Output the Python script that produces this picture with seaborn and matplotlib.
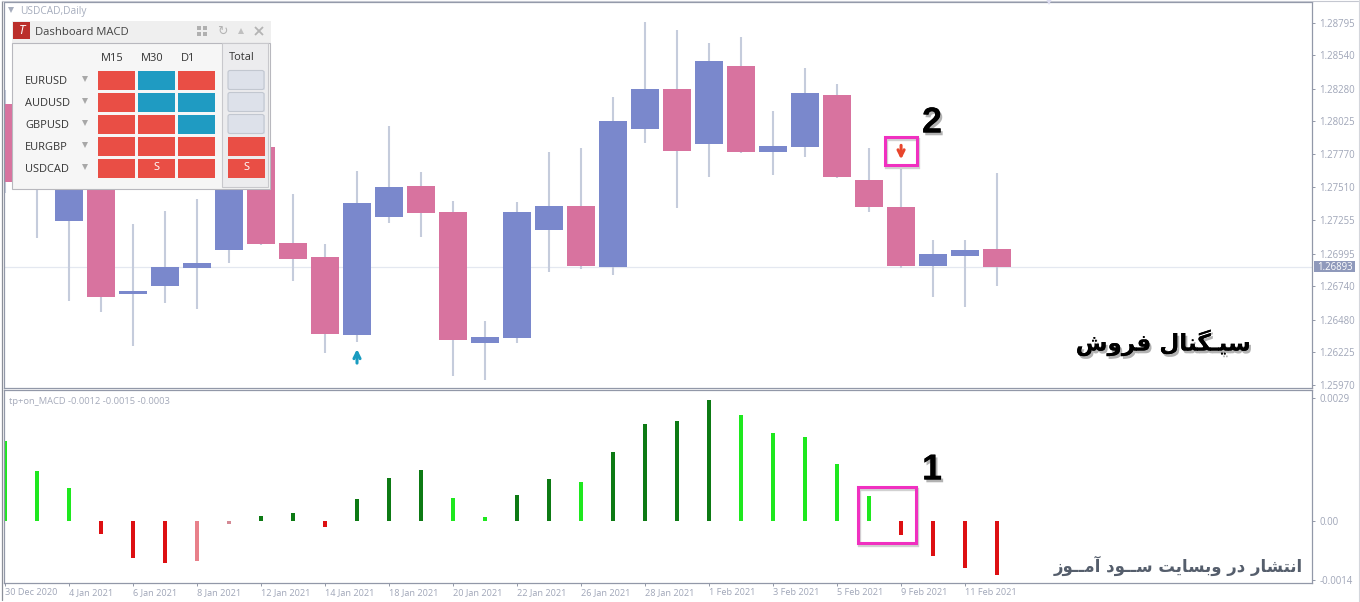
import numpy as np
import pandas as pd
import matplotlib
matplotlib.use("Agg")
import matplotlib.pyplot as plt
import matplotlib.patheffects as pe
from matplotlib.colors import ListedColormap
from matplotlib.patches import Rectangle, FancyBboxPatch
import seaborn as sns

# candles (prices, the ones behind the panel are guesses)
opens = [1.28157, 1.27550, 1.27246, 1.27700, 1.26678, 1.26741, 1.26881, 1.27021,
         1.27822, 1.27077, 1.26966, 1.26359, 1.27277, 1.27519, 1.27316, 1.26297,
         1.26336, 1.27176, 1.27363, 1.26888, 1.27962, 1.28274, 1.27846, 1.28460,
         1.27783, 1.27822, 1.28227, 1.27565, 1.27355, 1.26896, 1.26974, 1.27028]
highs = [1.28266, 1.27850, 1.27900, 1.27800, 1.27223, 1.27324, 1.27418, 1.27900,
         1.27900, 1.27457, 1.27068, 1.27636, 1.27986, 1.27628, 1.27402, 1.26468,
         1.27395, 1.27783, 1.27815, 1.28211, 1.28803, 1.28733, 1.28632, 1.28686,
         1.28102, 1.28437, 1.28313, 1.27815, 1.27651, 1.27099, 1.27099, 1.27620]
lows = [1.27464, 1.27114, 1.26624, 1.26538, 1.26274, 1.26608, 1.26562, 1.26920,
        1.27061, 1.26780, 1.26219, 1.26305, 1.27231, 1.27122, 1.26040, 1.26009,
        1.26297, 1.26850, 1.26873, 1.26826, 1.27853, 1.27347, 1.27589, 1.27776,
        1.27604, 1.27744, 1.27582, 1.27316, 1.26881, 1.26655, 1.26577, 1.26741]
closes = [1.27550, 1.27700, 1.27799, 1.26655, 1.26702, 1.26888, 1.26920, 1.27799,
          1.27068, 1.26951, 1.26367, 1.27386, 1.27511, 1.27309, 1.26320, 1.26344,
          1.27316, 1.27363, 1.26896, 1.28025, 1.28274, 1.27791, 1.28492, 1.27783,
          1.27830, 1.28243, 1.27589, 1.27355, 1.26896, 1.26990, 1.27021, 1.26888]

macd = [0.00190, 0.00119, 0.00079, -0.00031, -0.00088, -0.00100, -0.00095, -0.00007,
        0.00012, 0.00019, -0.00014, 0.00052, 0.00102, 0.00121, 0.00055, 0.00009,
        0.00062, 0.00100, 0.00092, 0.00164, 0.00230, 0.00237, 0.00287, 0.00251,
        0.00209, 0.00199, 0.00135, 0.00059, -0.00033, -0.00083, -0.00111, -0.00128]
macd_state = ["bright", "bright", "bright", "red", "red", "red", "salmon", "rose",
              "dark", "dark", "red", "dark", "dark", "dark", "bright", "bright",
              "dark", "dark", "bright", "dark", "dark", "dark", "dark", "bright",
              "bright", "bright", "bright", "bright", "red", "red", "red", "red"]

date_labels = ["30 Dec 2020", "4 Jan 2021", "6 Jan 2021", "8 Jan 2021", "12 Jan 2021",
               "14 Jan 2021", "18 Jan 2021", "20 Jan 2021", "22 Jan 2021", "26 Jan 2021",
               "28 Jan 2021", "1 Feb 2021", "3 Feb 2021", "5 Feb 2021", "9 Feb 2021",
               "11 Feb 2021"]
price_ticks = [1.28795, 1.28540, 1.28280, 1.28025, 1.27770, 1.27510, 1.27255,
               1.26995, 1.26740, 1.26480, 1.26225, 1.25970]
macd_ticks = [0.0029, 0.0, -0.0014]
macd_tick_labels = ["0.0029", "0.00", "-0.0014"]
last_price = 1.26893

# dashboard: 0 sell, 1 buy, 2 nothing
pairs = ["EURUSD", "AUDUSD", "GBPUSD", "EURGBP", "USDCAD"]
frames = ["M15", "M30", "D1"]
signals = [[0, 1, 0], [0, 1, 1], [0, 0, 1], [0, 0, 0], [0, 0, 0]]
signal_text = [["", "", ""], ["", "", ""], ["", "", ""], ["", "", ""], ["", "S", ""]]
total = [[2], [2], [2], [0], [0]]
total_text = [[""], [""], [""], [""], ["S"]]

BLUE = "#7a88cc"
PINK = "#d8739f"
WICK = "#c5ccdc"
FRAME = "#9298a8"
GREY = "#a0a6b8"

W, H = 1360, 602


def px_axes(left, top, right, bottom, **kw):
    return fig.add_axes([left / W, 1 - bottom / H, (right - left) / W, (bottom - top) / H], **kw)


forms = {
    "ا": "\ufe8d\ufe8e", "آ": "\ufe81\ufe82", "د": "\ufea9\ufeaa", "ر": "\ufead\ufeae",
    "ز": "\ufeaf\ufeb0", "و": "\ufeed\ufeee",
    "ب": "\ufe8f\ufe90\ufe91\ufe92", "ت": "\ufe95\ufe96\ufe97\ufe98",
    "س": "\ufeb1\ufeb2\ufeb3\ufeb4", "ش": "\ufeb5\ufeb6\ufeb7\ufeb8",
    "ف": "\ufed1\ufed2\ufed3\ufed4", "گ": "\ufb92\ufb93\ufb94\ufb95",
    "ل": "\ufedd\ufede\ufedf\ufee0", "م": "\ufee1\ufee2\ufee3\ufee4",
    "ن": "\ufee5\ufee6\ufee7\ufee8", "ی": "\ufbfc\ufbfd\ufbfe\ufbff",
    "ـ": "\u0640\u0640\u0640\u0640",
}


def persian(text):
    # matplotlib does no shaping, so pick the joined forms and reverse
    out = []
    for i, ch in enumerate(text):
        if ch not in forms:
            out.append(ch)
            continue
        prev = text[i - 1] if i > 0 else " "
        nxt = text[i + 1] if i + 1 < len(text) else " "
        joins_prev = prev in forms and len(forms[prev]) == 4
        joins_next = nxt in forms and len(forms[ch]) == 4
        f = forms[ch]
        if joins_prev and joins_next:
            out.append(f[3])
        elif joins_prev:
            out.append(f[1])
        elif joins_next:
            out.append(f[2])
        else:
            out.append(f[0])
    return "".join(reversed(out))


sns.set_style("white")
plt.rcParams["font.family"] = ["Open Sans", "DejaVu Sans"]

fig = plt.figure(figsize=(W / 100, H / 100), dpi=100, facecolor="white")

df = pd.DataFrame({"bar": np.arange(len(opens)), "open": opens, "high": highs,
                   "low": lows, "close": closes, "macd": macd, "state": macd_state})
df["body_low"] = df[["open", "close"]].min(axis=1)
df["body"] = (df["close"] - df["open"]).abs()

# price panel
ax = px_axes(4, 2, 1312, 388)
ax.hlines(last_price, -1, 50, color="#e4e8f0", lw=0.9, zorder=0)
ax.vlines(df["bar"], df["low"], df["high"], color=WICK, lw=1.5, zorder=1)
up = df[df["close"] > df["open"]]
down = df[df["close"] <= df["open"]]
for part, col in [(up, BLUE), (down, PINK)]:
    sns.barplot(data=part, x="bar", y="body", bottom=part["body_low"].values, native_scale=True,
                color=col, saturation=1, width=0.9, linewidth=0, ax=ax, zorder=2)

ax.set_xlim(-0.03, 40.84)
ax.set_ylim(1.25947, 1.28955)
ax.set_xlabel("")
ax.set_ylabel("")
ax.set_xticks([])
ax.yaxis.tick_right()
ax.set_yticks(price_ticks)
ax.set_yticklabels([f"{p:.5f}" for p in price_ticks])
ax.tick_params(axis="y", right=True, length=2.2, width=0.7, color=FRAME, labelcolor=GREY,
               labelsize=6.9, pad=3)
ax.annotate("", xy=(11, 1.26250), xytext=(11, 1.26141), zorder=5,
            arrowprops=dict(arrowstyle="->", color="#1a9cc0", lw=2.2, shrinkA=0, shrinkB=0,
                            mutation_scale=11))
ax.annotate("", xy=(28, 1.27729), xytext=(28, 1.27838), zorder=5,
            arrowprops=dict(arrowstyle="->", color="#e8452c", lw=2.2, shrinkA=0, shrinkB=0,
                            mutation_scale=11))
for s in ax.spines.values():
    s.set_color(FRAME)
    s.set_linewidth(0.9)
    s.set_visible(True)

# macd panel
ax2 = px_axes(4, 390, 1312, 583)
state_colors = {"bright": "#1ee81e", "dark": "#0d7a14", "red": "#dd0f12",
                "salmon": "#e8808a", "rose": "#d48a95"}
sns.barplot(data=df, x="bar", y="macd", hue="state", palette=state_colors, dodge=False,
            native_scale=True, saturation=1, width=0.1, linewidth=0, legend=False, ax=ax2)
ax2.set_xlim(-0.03, 40.84)
ax2.set_ylim(-0.00147, 0.0031)
ax2.set_xlabel("")
ax2.set_ylabel("")
ax2.yaxis.tick_right()
ax2.set_yticks(macd_ticks)
ax2.set_yticklabels(macd_tick_labels)
ax2.set_xticks(np.arange(0, 32, 2))
ax2.set_xticklabels(date_labels, ha="left")
ax2.tick_params(axis="y", right=True, length=2.2, width=0.7, color=FRAME, labelcolor=GREY,
                labelsize=6.9, pad=3)
ax2.tick_params(axis="x", bottom=True, length=2.2, width=0.7, color=FRAME, labelcolor=GREY,
                labelsize=6.6, pad=1.5)
for s in ax2.spines.values():
    s.set_color(FRAME)
    s.set_linewidth(0.9)
    s.set_visible(True)

# overlay in pixels for the panel chrome and the annotations
ov = fig.add_axes([0, 0, 1, 1], zorder=5)
ov.set_xlim(0, W)
ov.set_ylim(H, 0)
ov.axis("off")
ov.plot([1358.5, 1358.5], [0, 602], color="#d4d6dc", lw=0.8)
ov.plot([1.5, 1.5], [1, 600], color="#8b8f99", lw=0.9)
ov.plot([1.5, 1358], [1, 1], color="#c4c7d0", lw=0.8)
ov.plot([1049], [2], marker="v", ms=5, color="#dcdcf0", mew=0)

ov.plot([11], [10], marker="v", ms=5, color="#a6adbd", mew=0)
ov.text(20, 11.5, "USDCAD,Daily", color="#a6adbd", fontsize=7.3, va="center")
ov.text(9, 401.5, "tp+on_MACD -0.0012 -0.0015 -0.0003", color="#a5aaba", fontsize=6.75, va="center")

ov.add_patch(Rectangle((1314, 261), 41, 11, fc="#8f99bb", ec="none"))
ov.text(1317, 267, f"{last_price:.5f}", color="white", fontsize=6.9, va="center")

# dashboard box
ov.add_patch(Rectangle((12, 21), 259, 22, fc="#efefef", ec="none"))
ov.add_patch(Rectangle((12, 43), 258, 146, fc="#f6f6f6", ec="#b8b8be", lw=0.8))
ov.add_patch(Rectangle((222, 43), 46, 144, fc="#ececee", ec="#c8c8cc", lw=0.8))
ov.add_patch(Rectangle((13, 22), 17, 17, fc="#bb2f2b", ec="none"))
ov.text(21.5, 31, "T", color="white", fontsize=9, style="italic", ha="center", va="center")
ov.text(35, 32.5, "Dashboard MACD", color="#444444", fontsize=8.15, va="center")
ov.plot([199, 205, 199, 205], [28, 28, 34, 34], ls="", marker="s", ms=2.6, color="#b0b0b0", mew=0)
ov.text(222, 31, "\u21bb", color="#b4b4b4", fontsize=9, ha="center", va="center", family="DejaVu Sans")
ov.plot([241], [31], marker="^", ms=4.5, color="#c0c0c0", mew=0)
ov.plot([259], [31], marker="x", ms=5.5, color="#b4b4b4", mew=1.3)

for y, name in zip([80, 102, 124, 146, 168], pairs):
    ov.text(25, y + 1.5, name, color="#333333", fontsize=7.9, va="center")
    ov.plot([85], [y - 1], marker="v", ms=5, color="#a8a8a8", mew=0)
for x, name in zip([101, 141, 181], frames):
    ov.text(x, 58.5, name, color="#333333", fontsize=7.9, va="center")
ov.text(229, 57.5, "Total", color="#333333", fontsize=7.9, va="center")

cell_colors = ["#e94e45", "#1f9bc2", "#dde1ea"]
cell_cmap = ListedColormap(cell_colors)
for (l, r, vals, txt, bg) in [(96, 216, signals, signal_text, "#f6f6f6"),
                              (226, 266, total, total_text, "#ececee")]:
    hm = px_axes(l, 69, r, 179, zorder=6)
    sns.heatmap(np.array(vals), annot=np.array(txt), fmt="", cmap=cell_cmap, vmin=-0.5, vmax=2.5,
                cbar=False, linewidths=2.0, linecolor=bg, xticklabels=False, yticklabels=False,
                annot_kws={"color": "white", "fontsize": 8}, ax=hm)

ov2 = fig.add_axes([0, 0, 1, 1], zorder=7)
ov2.set_xlim(0, W)
ov2.set_ylim(H, 0)
ov2.axis("off")
for y in [80, 102, 124]:
    ov2.add_patch(FancyBboxPatch((228, y - 9.5), 36, 19, boxstyle="round,pad=0,rounding_size=2",
                                 fc="none", ec="#c2c7d0", lw=0.8))

# callouts
for (x0, y0, x1, y1) in [(858, 487, 916, 543), (885, 137, 917, 165)]:
    ov2.add_patch(Rectangle((x0 + 1, y0 + 2), x1 - x0, y1 - y0, fill=False, ec="#000000", lw=2.4, alpha=0.18))
    ov2.add_patch(Rectangle((x0, y0), x1 - x0, y1 - y0, fill=False, ec="#f030c0", lw=2.2))

shadow = [pe.withSimplePatchShadow(offset=(1.5, -2), shadow_rgbFace="#555555", alpha=0.45), pe.Normal()]
ov2.text(932, 470, "1", color="black", fontsize=26, fontweight="bold", family="Liberation Sans",
         ha="center", va="center", path_effects=shadow)
ov2.text(932, 123, "2", color="black", fontsize=26, fontweight="bold", family="Liberation Sans",
         ha="center", va="center", path_effects=shadow)

ov2.text(1163, 343, persian("سیـگنال فروش"), color="black", fontsize=16.6, fontweight="bold",
         family="DejaVu Sans", ha="center", va="center", path_effects=shadow)
ov2.text(1178, 566, persian("انتشار در وبسایت ســود آمــوز"), color="#555e6c", fontsize=11.9,
         fontweight="bold", family="DejaVu Sans", ha="center", va="center")

fig.savefig("out.png", dpi=100)
